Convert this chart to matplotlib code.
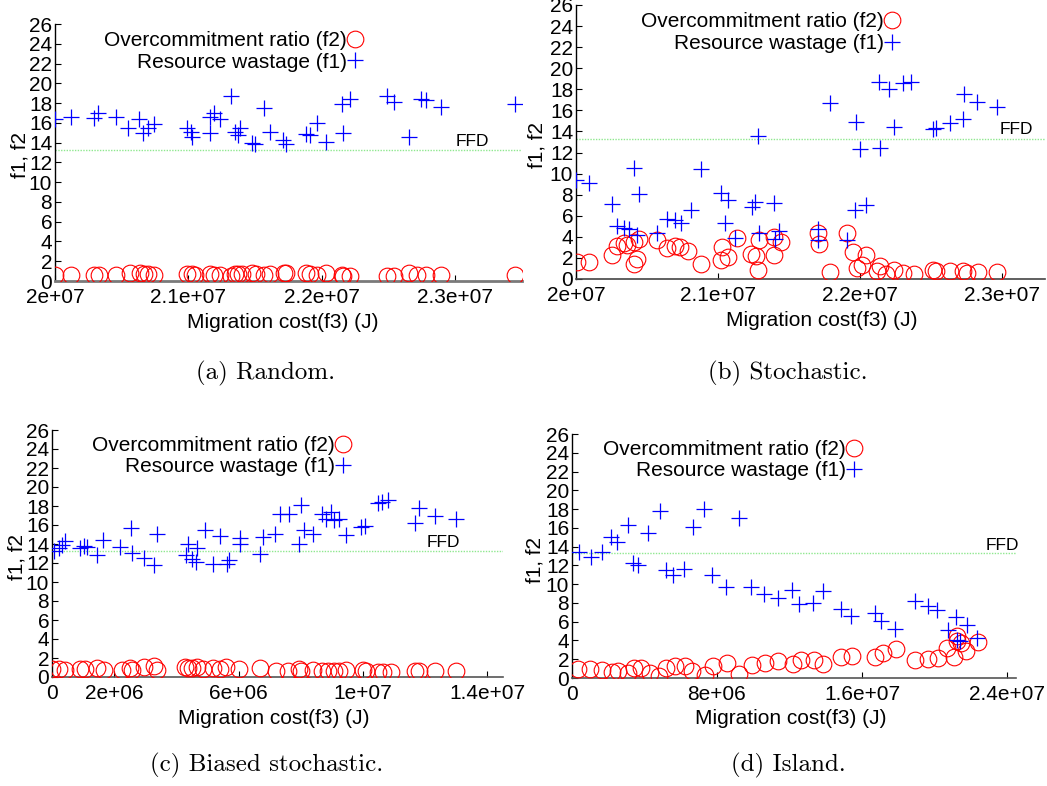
import numpy as np
import matplotlib
matplotlib.use('Agg')
import matplotlib.pyplot as plt

plt.rcParams['font.family'] = ['Liberation Sans', 'DejaVu Sans']

W, H = 1047, 786

FFD = 13.3

# Migration cost values below are in units of 1e6 J

# (a) Random
a_f1_x = [20.00, 20.12, 20.29, 20.32, 20.46, 20.55, 20.63, 20.66, 20.70, 20.74,
          20.99, 21.02, 21.03, 21.16, 21.16, 21.19, 21.24, 21.32, 21.35, 21.37,
          21.39, 21.48, 21.50, 21.57, 21.61, 21.71, 21.73, 21.88, 21.91, 21.96,
          22.03, 22.15, 22.16, 22.21, 22.49, 22.54, 22.65, 22.74, 22.78, 22.89,
          23.45]
a_f1_y = [16.4, 16.6, 16.5, 17.0, 16.6, 15.5, 16.4, 15.0, 15.5, 15.9,
          15.5, 15.1, 14.6, 15.0, 16.6, 17.0, 16.4, 18.7, 15.1, 14.8,
          15.5, 14.0, 13.9, 17.5, 15.1, 14.3, 13.9, 14.9, 14.8, 16.0,
          14.1, 17.9, 15.0, 18.4, 18.7, 18.1, 14.6, 18.4, 18.3, 17.6,
          17.9]
a_f2_x = [20.00, 20.12, 20.29, 20.33, 20.46, 20.56, 20.64, 20.67, 20.70, 20.74,
          20.99, 21.03, 21.05, 21.16, 21.19, 21.24, 21.32, 21.35, 21.37, 21.40,
          21.48, 21.51, 21.57, 21.61, 21.72, 21.73, 21.88, 21.91, 21.96, 22.03,
          22.15, 22.16, 22.21, 22.49, 22.54, 22.65, 22.71, 22.78, 22.89, 23.45]
a_f2_y = [0.6, 0.6, 0.6, 0.6, 0.6, 0.8, 0.8, 0.7, 0.7, 0.6,
          0.7, 0.7, 0.6, 0.7, 0.6, 0.6, 0.5, 0.7, 0.7, 0.7,
          0.85, 0.7, 0.6, 0.7, 0.85, 0.8, 0.8, 0.7, 0.6, 0.8,
          0.6, 0.5, 0.5, 0.5, 0.5, 0.8, 0.6, 0.6, 0.6, 0.6]

# (b) Stochastic
b_f1_x = [20.00, 20.09, 20.25, 20.29, 20.34, 20.37, 20.41, 20.44, 20.43, 20.57,
          20.64, 20.70, 20.74, 20.81, 20.88, 21.02, 21.05, 21.07, 21.12, 21.24,
          21.26, 21.28, 21.29, 21.39, 21.40, 21.43, 21.70, 21.70, 21.79, 21.91,
          21.96, 21.97, 22.00, 22.04, 22.13, 22.14, 22.20, 22.24, 22.30, 22.36,
          22.51, 22.53, 22.63, 22.72, 22.73, 22.82, 22.96]
b_f1_y = [9.4, 9.1, 7.1, 5.0, 4.8, 4.7, 10.5, 8.1, 4.2, 4.4,
          5.7, 5.6, 5.3, 6.5, 10.4, 8.2, 5.3, 7.5, 3.9, 6.8,
          7.3, 13.6, 4.4, 7.2, 3.8, 4.6, 4.7, 3.7, 16.7, 3.7,
          6.5, 14.9, 12.3, 7.0, 18.7, 12.4, 18.0, 14.4, 18.6, 18.7,
          14.2, 14.3, 14.8, 15.2, 17.6, 16.8, 16.3]
b_f2_x = [20.01, 20.09, 20.25, 20.29, 20.34, 20.36, 20.41, 20.44, 20.43, 20.41,
          20.57, 20.64, 20.70, 20.73, 20.79, 20.88, 21.02, 21.03, 21.07, 21.13,
          21.23, 21.27, 21.28, 21.29, 21.39, 21.39, 21.44, 21.70, 21.71, 21.79,
          21.91, 21.95, 21.98, 22.01, 22.04, 22.12, 22.14, 22.18, 22.24, 22.30,
          22.38, 22.51, 22.53, 22.63, 22.72, 22.75, 22.83, 22.96]
b_f2_y = [1.6, 1.6, 2.3, 3.1, 3.4, 3.2, 3.5, 3.8, 1.9, 1.4,
          3.7, 2.9, 3.1, 3.0, 2.7, 1.4, 1.8, 3.0, 2.1, 3.9,
          2.4, 2.2, 0.9, 3.7, 4.0, 2.3, 3.5, 4.4, 3.3, 0.7,
          4.4, 2.6, 1.0, 1.3, 2.3, 0.8, 1.2, 0.5, 0.9, 0.6,
          0.5, 0.9, 0.8, 0.8, 0.8, 0.6, 0.7, 0.7]

# (c) Biased stochastic
c_f1_x = [0.05, 0.21, 0.32, 0.43, 0.91, 1.02, 1.12, 1.44, 1.64, 2.19,
          2.54, 2.56, 2.96, 3.28, 3.37, 4.31, 4.38, 4.49, 4.65, 4.63,
          4.92, 5.18, 5.40, 5.63, 5.70, 6.04, 6.06, 6.70, 6.79, 7.16,
          7.32, 7.62, 7.93, 8.02, 8.09, 8.39, 8.69, 8.80, 8.98, 9.08,
          9.24, 9.46, 9.94, 10.07, 10.47, 10.61, 10.79, 11.68, 11.79, 12.32,
          12.98]
c_f1_y = [13.3, 13.6, 13.9, 14.3, 13.6, 13.8, 13.7, 12.8, 14.4, 13.7,
          15.7, 13.1, 12.5, 11.8, 15.1, 12.8, 14.0, 12.4, 13.6, 12.1,
          15.5, 11.9, 14.8, 11.9, 12.3, 14.6, 14.0, 13.0, 14.7, 15.1,
          17.2, 17.2, 14.0, 18.1, 15.5, 15.1, 17.2, 16.6, 17.4, 16.5,
          16.6, 15.0, 15.8, 15.9, 18.3, 18.4, 18.6, 16.2, 17.8, 16.9,
          16.6]
c_f2_x = [0.00, 0.21, 0.43, 0.91, 1.07, 1.44, 1.66, 2.24, 2.51, 2.56,
          2.96, 3.28, 3.37, 4.28, 4.38, 4.49, 4.65, 4.86, 5.18, 5.40,
          5.61, 6.02, 6.68, 7.21, 7.59, 7.93, 8.02, 8.39, 8.69, 8.87,
          9.08, 9.24, 9.46, 9.99, 10.10, 10.47, 10.63, 10.90, 11.68, 11.81,
          12.32, 12.98]
c_f2_y = [0.84, 0.84, 0.77, 0.84, 0.84, 0.95, 0.77, 0.77, 0.95, 0.77,
          1.05, 1.12, 0.77, 1.02, 0.95, 0.95, 1.02, 0.84, 0.95, 0.84,
          1.05, 0.84, 0.95, 0.6, 0.6, 0.84, 0.6, 0.7, 0.6, 0.6,
          0.6, 0.6, 0.7, 0.7, 0.6, 0.49, 0.49, 0.49, 0.6, 0.6,
          0.6, 0.6]

# (d) Island
d_f1_x = [0.37, 1.04, 1.63, 2.14, 2.46, 3.11, 3.38, 3.66, 4.18, 4.86,
          5.18, 5.60, 6.16, 6.66, 7.27, 7.73, 8.51, 9.21, 9.86, 10.60,
          11.39, 12.13, 12.54, 13.28, 13.87, 14.85, 15.40, 16.70, 17.07, 17.84,
          18.92, 19.66, 20.12, 20.77, 21.19, 21.23, 21.41, 21.78, 22.34]
d_f1_y = [13.4, 12.9, 13.4, 15.0, 14.5, 16.3, 12.3, 12.0, 15.4, 17.8,
          11.5, 11.0, 11.6, 16.1, 18.0, 11.0, 9.7, 17.1, 9.7, 9.0,
          8.5, 9.4, 7.9, 8.0, 9.3, 7.3, 6.6, 6.9, 6.1, 5.2,
          8.2, 7.7, 7.2, 5.1, 6.5, 4.0, 3.9, 5.6, 4.3]
d_f2_x = [0.33, 0.98, 1.63, 2.22, 2.55, 3.11, 3.44, 3.81, 4.31, 4.81,
          5.18, 5.70, 6.21, 6.62, 7.32, 7.77, 8.56, 9.21, 9.91, 10.65,
          11.39, 12.20, 12.63, 13.37, 13.87, 14.85, 15.46, 16.70, 17.16, 17.90,
          18.92, 19.66, 20.21, 20.67, 21.08, 21.23, 21.23, 21.45, 21.75, 22.43]
d_f2_y = [0.96, 0.96, 0.89, 0.64, 0.71, 0.53, 1.06, 1.06, 0.53, 0.25,
          1.06, 1.31, 1.24, 0.71, 0.35, 1.31, 1.60, 0.46, 1.42, 1.60,
          1.77, 1.53, 1.95, 1.95, 1.53, 2.23, 2.38, 2.23, 2.66, 3.09,
          1.88, 2.02, 2.13, 3.19, 2.23, 4.43, 3.90, 3.72, 2.84, 3.80]

panels = [
    # data, axes box in pixels (left, right, top, bottom), xlim, ticks, tick labels,
    # legend anchor, ffd label x, xlabel center px, ylabel pos, caption
    dict(f1=(a_f1_x, a_f1_y), f2=(a_f2_x, a_f2_y), box=(55, 522, 24, 281),
         xlim=(20.0, 23.5), ticks=[20, 21, 22, 23],
         labels=['2e+07', '2.1e+07', '2.2e+07', '2.3e+07'],
         leg=(0.66, 0.972), ffd_x=23.0, bottom=('#7a7a7a', 2.0),
         xlab=(283, 322), ylab=(20, 155), cap=(266, 373, '(a) Random.')),
    dict(f1=(b_f1_x, b_f1_y), f2=(b_f2_x, b_f2_y), box=(576, 1045, 5, 279),
         xlim=(20.0, 23.3), ticks=[20, 21, 22, 23],
         labels=['2e+07', '2.1e+07', '2.2e+07', '2.3e+07'],
         leg=(0.692, 0.973), ffd_x=22.98, bottom=('#444444', 1.2),
         xlab=(822, 320), ylab=(537, 145), cap=(788, 373, '(b) Stochastic.')),
    dict(f1=(c_f1_x, c_f1_y), f2=(c_f2_x, c_f2_y), box=(52, 503, 430, 677),
         xlim=(0.0, 14.5), ticks=[0, 2, 6, 10, 14],
         labels=['0', '2e+06', '6e+06', '1e+07', '1.4e+07'],
         leg=(0.664, 0.976), ffd_x=12.06, bottom=('#555555', 1.2),
         xlab=(274, 718), ylab=(17, 557), cap=(267, 765, '(c) Biased stochastic.')),
    dict(f1=(d_f1_x, d_f1_y), f2=(d_f2_x, d_f2_y), box=(572, 1016, 434, 678),
         xlim=(0.0, 24.5), ticks=[0, 8, 16, 24],
         labels=['0', '8e+06', '1.6e+07', '2.4e+07'],
         leg=(0.654, 0.976), ffd_x=22.8, bottom=('#555555', 1.2),
         xlab=(791, 718), ylab=(535, 560), cap=(788, 765, '(d) Island.')),
]

fig = plt.figure(figsize=(W / 100, H / 100), dpi=100)

for p in panels:
    l, r, t, b = p['box']
    ax = fig.add_axes([l / W, 1 - b / H, (r - l) / W, (b - t) / H])

    scale = 1e6
    ax.plot(np.array(p['f2'][0]) * scale, p['f2'][1], 'o', mfc='none', mec='#ff0000',
            ms=12, mew=0.8, label='Overcommitment ratio (f2)', zorder=3)
    ax.plot(np.array(p['f1'][0]) * scale, p['f1'][1], '+', color='#0000ff',
            ms=12, mew=0.9, label='Resource wastage (f1)', zorder=4)

    ax.axhline(FFD, color='#8fe88f', lw=1.0, ls=(0, (1, 1)), zorder=2)
    ax.text(p['ffd_x'] * scale, 14.15, 'FFD', fontsize=12.5, va='center', ha='left')

    ax.set_xlim(p['xlim'][0] * scale, p['xlim'][1] * scale)
    ax.set_ylim(0, 26)
    ax.set_yticks(np.arange(0, 27, 2))
    ax.set_xticks(np.array(p['ticks']) * scale)
    ax.set_xticklabels(p['labels'])
    ax.tick_params(axis='both', direction='in', length=4, width=0.8,
                   labelsize=15, pad=2, colors='black')
    ax.tick_params(axis='x', pad=5)

    for s in ['top', 'right']:
        ax.spines[s].set_visible(False)
    ax.spines['left'].set_linewidth(1.0)
    ax.spines['bottom'].set_color(p['bottom'][0])
    ax.spines['bottom'].set_linewidth(p['bottom'][1])

    ax.legend(loc='upper right', bbox_to_anchor=p['leg'], frameon=False,
              markerfirst=False, fontsize=15, handlelength=0.8, handletextpad=0.0,
              borderpad=0.0, borderaxespad=0.0, labelspacing=0.12)

    fig.text(p['xlab'][0] / W, 1 - p['xlab'][1] / H, 'Migration cost(f3) (J)',
             fontsize=15, ha='center', va='center')
    fig.text(p['ylab'][0] / W, 1 - p['ylab'][1] / H, 'f1, f2', fontsize=15,
             ha='center', va='center', rotation=90)
    fig.text(p['cap'][0] / W, 1 - p['cap'][1] / H, p['cap'][2], fontsize=18,
             family='cmr10', ha='center', va='center')

fig.savefig('out.png', dpi=100)
